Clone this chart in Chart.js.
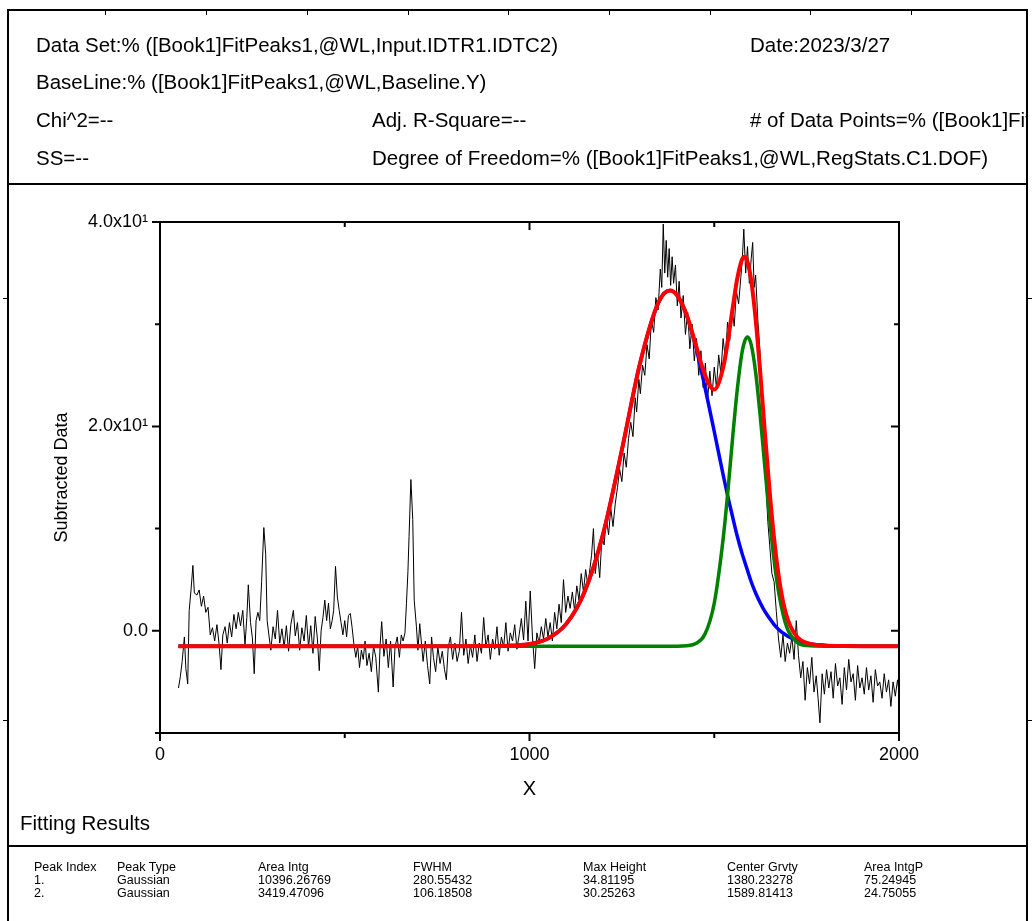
<!DOCTYPE html>
<html>
<head>
<meta charset="utf-8">
<script src="https://cdn.jsdelivr.net/npm/chart.js@4.4.0/dist/chart.umd.min.js"></script>
<style>
  html, body { margin: 0; padding: 0; background: #fff; }
  #page { position: relative; width: 1033px; height: 921px; overflow: hidden; font-family: "Liberation Sans", Arial, sans-serif; color: #000; }
  #plot { position: absolute; left: 0; top: 0; }
  .t { position: absolute; white-space: nowrap; font-size: 20.5px; line-height: 20px; }
  .ln { position: absolute; background: #000; }
  .mk { position: absolute; background: #000; width: 1px; height: 4px; top: 11px; }
  .tb { position: absolute; white-space: nowrap; font-size: 12.5px; line-height: 13px; }
  #clip { position: absolute; left: 750px; top: 110px; width: 276px; height: 24px; overflow: hidden; }
</style>
</head>
<body>
<div id="page">
  <canvas id="plot" width="1033" height="921" style="width:1033px;height:921px"></canvas>

  <div class="ln" style="left:7px;top:9px;width:1021px;height:2px"></div>
  <div class="ln" style="left:7px;top:9px;width:2px;height:912px"></div>
  <div class="ln" style="left:1026px;top:9px;width:2px;height:912px"></div>
  <div class="ln" style="left:7px;top:183px;width:1021px;height:2px"></div>
  <div class="ln" style="left:7px;top:845px;width:1021px;height:2px"></div>
  <div class="mk" style="left:105px"></div>
  <div class="mk" style="left:206px"></div>
  <div class="mk" style="left:307px"></div>
  <div class="mk" style="left:408px"></div>
  <div class="mk" style="left:508px"></div>
  <div class="mk" style="left:609px"></div>
  <div class="mk" style="left:710px"></div>
  <div class="mk" style="left:810px"></div>
  <div class="mk" style="left:911px"></div>
  <div class="ln" style="left:3px;top:298px;width:4px;height:1px"></div>
  <div class="ln" style="left:3px;top:720px;width:4px;height:1px"></div>
  <div class="ln" style="left:1028px;top:298px;width:4px;height:1px"></div>
  <div class="ln" style="left:1028px;top:720px;width:4px;height:1px"></div>

  <div class="t" style="left:36px;top:35px">Data Set:% ([Book1]FitPeaks1,@WL,Input.IDTR1.IDTC2)</div>
  <div class="t" style="left:750px;top:35px">Date:2023/3/27</div>
  <div class="t" style="left:36px;top:72px">BaseLine:% ([Book1]FitPeaks1,@WL,Baseline.Y)</div>
  <div class="t" style="left:36px;top:110px">Chi^2=--</div>
  <div class="t" style="left:372px;top:110px">Adj. R-Square=--</div>
  <div id="clip"><div class="t" style="left:0;top:0"># of Data Points=% ([Book1]FitPeaks1,@WL,RegStats.C1.N)</div></div>
  <div class="t" style="left:36px;top:148px">SS=--</div>
  <div class="t" style="left:372px;top:148px">Degree of Freedom=% ([Book1]FitPeaks1,@WL,RegStats.C1.DOF)</div>

  <div class="t" style="left:20px;top:813px">Fitting Results</div>

  <div class="tb" style="left:34px;top:861px">Peak Index<br>1.<br>2.</div>
  <div class="tb" style="left:117px;top:861px">Peak Type<br>Gaussian<br>Gaussian</div>
  <div class="tb" style="left:258px;top:861px">Area Intg<br>10396.26769<br>3419.47096</div>
  <div class="tb" style="left:413px;top:861px">FWHM<br>280.55432<br>106.18508</div>
  <div class="tb" style="left:583px;top:861px">Max Height<br>34.81195<br>30.25263</div>
  <div class="tb" style="left:727px;top:861px">Center Grvty<br>1380.23278<br>1589.81413</div>
  <div class="tb" style="left:864px;top:861px">Area IntgP<br>75.24945<br>24.75055</div>
</div>

<script>
// raw subtracted data
const dataX = [50,55,60,66,70,75,79,84,89,93,100,106,112,118,124,130,136,142,148,154,160,165,170,176,182,188,194,200,206,212,218,224,230,235,239,245,250,255,260,265,270,275,281,286,290,295,300,306,312,318,324,330,336,342,348,354,361,366,372,378,384,390,396,402,408,414,420,426,431,436,441,446,451,456,461,466,470,475,480,485,490,495,500,505,510,515,520,525,530,535,540,545,550,555,560,566,572,578,584,591,596,600,606,612,618,624,631,636,642,648,653,658,663,667,671,674,679,684,688,694,698,703,708,712,718,724,730,735,740,746,752,758,764,770,775,780,786,792,798,804,810,816,822,828,834,840,846,852,858,864,870,876,882,888,894,900,906,912,918,924,930,936,942,948,954,960,966,972,978,984,990,996,1002,1008,1014,1020,1026,1032,1038,1044,1050,1056,1062,1068,1074,1080,1086,1092,1098,1104,1110,1116,1122,1128,1134,1140,1146,1152,1158,1164,1168,1173,1178,1184,1190,1196,1202,1208,1214,1220,1226,1232,1238,1244,1250,1256,1262,1268,1274,1280,1286,1290,1296,1300,1306,1312,1318,1324,1330,1336,1342,1348,1354,1358,1362,1366,1370,1374,1378,1382,1386,1390,1395,1400,1405,1410,1416,1422,1428,1434,1440,1446,1452,1458,1464,1470,1476,1482,1488,1494,1500,1506,1512,1518,1524,1530,1536,1542,1548,1554,1560,1566,1572,1576,1580,1585,1590,1595,1600,1604,1608,1612,1618,1624,1628,1634,1640,1645,1650,1656,1662,1668,1674,1680,1686,1692,1698,1704,1710,1716,1722,1728,1734,1740,1746,1752,1758,1764,1770,1776,1781,1786,1792,1798,1804,1810,1816,1822,1828,1834,1840,1846,1852,1858,1864,1870,1876,1882,1888,1894,1900,1906,1912,1918,1924,1930,1936,1942,1948,1954,1960,1966,1972,1978,1984,1990,1996,2000];
const dataY = [-5.6,-4.5,-3.0,-0.6,-3.7,-5.2,2.0,4.0,6.4,3.7,3.5,4.0,2.4,3.4,1.8,2.3,-0.4,0.3,-1.0,0.6,-1.3,-3.8,-0.4,0.4,-1.2,0.8,-0.6,1.6,0.2,1.8,0.5,2.0,-1.4,1.3,4.5,0.8,-0.7,-4.2,1.0,1.8,1.0,4.8,10.1,7.5,1.0,-0.5,-1.9,0.4,-0.8,2.0,-1.2,0.2,-1.6,0.5,-2.0,0.6,2.0,-0.5,0.8,-1.9,0.3,-1.0,1.5,-1.6,0.5,-2.2,1.4,-0.8,-3.9,0.0,1.3,3.0,1.0,2.7,0.2,1.0,2.0,6.3,3.3,2.0,0.8,-0.4,1.0,-0.6,1.5,1.7,0.3,-1.4,-2.6,-1.5,-3.6,-1.9,-2.8,-1.0,-3.4,-2.2,-4.0,-1.5,-2.6,-6.0,-1.2,0.9,-2.5,-0.8,-3.6,-1.0,-5.5,-1.6,-0.6,-2.6,-0.4,-1.0,-0.2,2.7,5.8,9.2,14.8,10.9,3.0,0.4,-1.9,0.7,-1.4,-3.0,-1.0,-3.4,-5.2,-0.6,-2.6,-4.0,-1.6,-3.2,-2.0,-3.8,-4.8,-1.6,-0.6,-2.8,-1.2,-3.0,-2.0,1.8,-2.4,-0.8,-3.2,-1.4,-2.6,-0.4,-3.0,-1.2,-2.2,1.3,-1.6,-0.4,-2.8,-0.8,-1.8,0.4,-2.4,-0.6,-1.6,0.8,-2.0,-0.2,-1.0,0.6,-1.8,-0.4,1.2,-0.9,2.9,-1.0,3.9,-0.6,-3.7,-0.2,-1.2,0.4,-0.8,1.2,-0.6,0.8,-1.0,1.8,0.2,2.6,0.8,5.0,1.8,3.4,2.2,3.8,2.0,4.4,3.0,5.6,3.8,6.0,4.4,6.2,7.4,10.0,5.6,7.6,5.2,9.2,8.4,11.0,9.4,12.0,10.2,12.4,14.0,15.8,14.6,17.4,16.0,18.8,20.4,19.0,22.8,21.4,24.6,23.2,26.0,25.0,28.0,26.6,30.4,29.2,32.6,31.4,35.4,33.6,39.8,35.0,38.2,34.6,37.4,33.8,36.6,34.0,35.8,31.8,34.2,30.6,32.8,29.0,31.2,27.6,30.0,26.4,28.6,25.0,27.4,23.8,26.2,22.6,25.4,23.0,25.8,23.8,27.0,25.2,28.6,26.6,30.2,28.4,31.6,29.8,33.2,32.0,34.6,36.4,39.3,35.0,37.6,34.0,36.4,38.0,33.6,34.8,30.4,27.2,24.4,18.6,14.2,10.7,8.4,5.6,4.8,1.9,-0.8,-2.6,-0.4,-3.0,-1.2,-2.2,-0.6,-2.8,1.0,-2.4,-4.6,-3.0,-6.8,-3.6,-5.2,-2.6,-6.0,-4.4,-6.6,-9.0,-4.2,-6.2,-3.8,-5.6,-4.0,-6.6,-3.2,-5.4,-4.6,-7.2,-3.6,-5.8,-2.8,-5.0,-4.2,-6.8,-3.4,-5.6,-4.6,-6.2,-3.6,-5.8,-4.4,-7.0,-3.8,-5.4,-5.0,-6.6,-4.2,-6.0,-4.8,-7.4,-5.0,-6.4,-4.8,-6.0];

// fitted curves
const fitX = [50,400,800,900,950,1000,1050,1100,1150,1200,1250,1300,1350,1380,1400,1425,1450,1475,1500,1525,1537,1550,1562,1575,1582,1590,1600,1612,1625,1637,1650,1662,1675,1687,1700,1725,1750,1800,1850,1900,2000];
const peak1 = [-1.5,-1.5,-1.5,-1.5,-1.45,-1.3,-0.75,0.7,3.9,9.6,17.7,26.3,32.2,33.3,32.8,30.9,27.8,23.8,19.5,15.1,13.1,11.1,9.3,7.6,6.8,5.9,4.8,3.7,2.7,1.9,1.2,0.6,0.1,-0.24,-0.56,-0.97,-1.22,-1.43,-1.49,-1.5,-1.5];
const peak2 = [-1.5,-1.5,-1.5,-1.5,-1.5,-1.5,-1.5,-1.5,-1.5,-1.5,-1.5,-1.5,-1.5,-1.5,-1.5,-1.46,-1.25,-0.32,2.7,9.3,13.7,19.0,23.5,27.2,28.3,28.75,28.0,25.3,20.8,16.0,10.9,6.9,3.6,1.5,0.03,-1.16,-1.45,-1.5,-1.5,-1.5,-1.5];
const fitSum = [-1.5,-1.5,-1.5,-1.49,-1.45,-1.29,-0.75,0.7,3.9,9.6,17.7,26.3,32.2,33.3,32.8,30.95,28.0,25.0,23.6,25.9,28.4,31.6,34.4,36.3,36.6,36.1,34.3,30.5,25.0,19.4,13.6,9.0,5.2,2.7,1.0,-0.63,-1.17,-1.43,-1.49,-1.5,-1.5];

// axis ticks
const xMajor = [0, 1000, 2000];
const xMinor = [500, 1500];
const yMajor = [0, 20, 40];
const yMinor = [-10, 10, 30];
const yLabels = ['0.0', '2.0x10\u00b9', '4.0x10\u00b9'];

const pts = (xs, ys) => xs.map((x, i) => ({ x: x, y: ys[i] }));

// frame + tick marks like Origin (out on left/bottom, in on top/right)
const axisBox = {
  id: 'axisBox',
  afterDatasetsDraw(chart) {
    const { ctx, chartArea: a, scales: { x, y } } = chart;
    ctx.save();
    ctx.strokeStyle = '#000';
    ctx.lineWidth = 2;
    ctx.strokeRect(a.left, a.top, a.right - a.left, a.bottom - a.top);
    ctx.beginPath();
    const tx = (v, len) => {
      const p = x.getPixelForValue(v);
      ctx.moveTo(p, a.bottom); ctx.lineTo(p, a.bottom + len);
      if (v > 0 && v < 2000) { ctx.moveTo(p, a.top); ctx.lineTo(p, a.top + len); }
    };
    const ty = (v, len) => {
      const p = y.getPixelForValue(v);
      ctx.moveTo(a.left, p); ctx.lineTo(a.left - len, p);
      if (v > -10 && v < 40) { ctx.moveTo(a.right, p); ctx.lineTo(a.right - len, p); }
    };
    xMajor.forEach(v => tx(v, 8));
    xMinor.forEach(v => tx(v, 5));
    yMajor.forEach(v => ty(v, 8));
    yMinor.forEach(v => ty(v, 5));
    ctx.stroke();
    ctx.restore();
  }
};

new Chart(document.getElementById('plot'), {
  type: 'line',
  data: {
    datasets: [
      { label: 'Cumulative Fit Peak', data: pts(fitX, fitSum), borderColor: '#ff0000', borderWidth: 4, order: 1, cubicInterpolationMode: 'monotone' },
      { label: 'Peak 2', data: pts(fitX, peak2), borderColor: '#008000', borderWidth: 3.5, order: 2, cubicInterpolationMode: 'monotone' },
      { label: 'Peak 1', data: pts(fitX, peak1), borderColor: '#0000ff', borderWidth: 3.5, order: 3, cubicInterpolationMode: 'monotone' },
      { label: 'Subtracted Data', data: pts(dataX, dataY), borderColor: '#000000', borderWidth: 1, order: 4, tension: 0 }
    ]
  },
  options: {
    responsive: false,
    animation: false,
    elements: { point: { radius: 0 } },
    layout: { padding: { left: 0, top: 222, right: 134, bottom: 118 } },
    plugins: { legend: { display: false }, tooltip: { enabled: false } },
    scales: {
      x: {
        type: 'linear', min: 0, max: 2000,
        grid: { display: false, drawTicks: false },
        border: { display: false },
        ticks: { stepSize: 1000, color: '#000', padding: 11, maxRotation: 0, font: { family: 'Liberation Sans', size: 18 }, callback: v => String(v) },
        title: { display: true, text: 'X', color: '#000', padding: { top: 0, bottom: 2 }, font: { family: 'Liberation Sans', size: 20 } },
        afterFit(s) { s.height = 70; s.paddingLeft = 0; s.paddingRight = 0; }
      },
      y: {
        min: -10, max: 40,
        grid: { display: false, drawTicks: false },
        border: { display: false },
        ticks: {
          stepSize: 10, autoSkip: false, color: '#000', padding: 12,
          font: { family: 'Liberation Sans', size: 18 },
          callback: v => { const i = yMajor.indexOf(v); return i < 0 ? '' : yLabels[i]; }
        },
        title: { display: true, text: 'Subtracted Data', color: '#000', padding: { top: 51, bottom: 0 }, font: { family: 'Liberation Sans', size: 18 } },
        afterFit(s) { s.width = 160; s.paddingTop = 0; s.paddingBottom = 0; }
      }
    }
  },
  plugins: [axisBox]
});
</script>
</body>
</html>
